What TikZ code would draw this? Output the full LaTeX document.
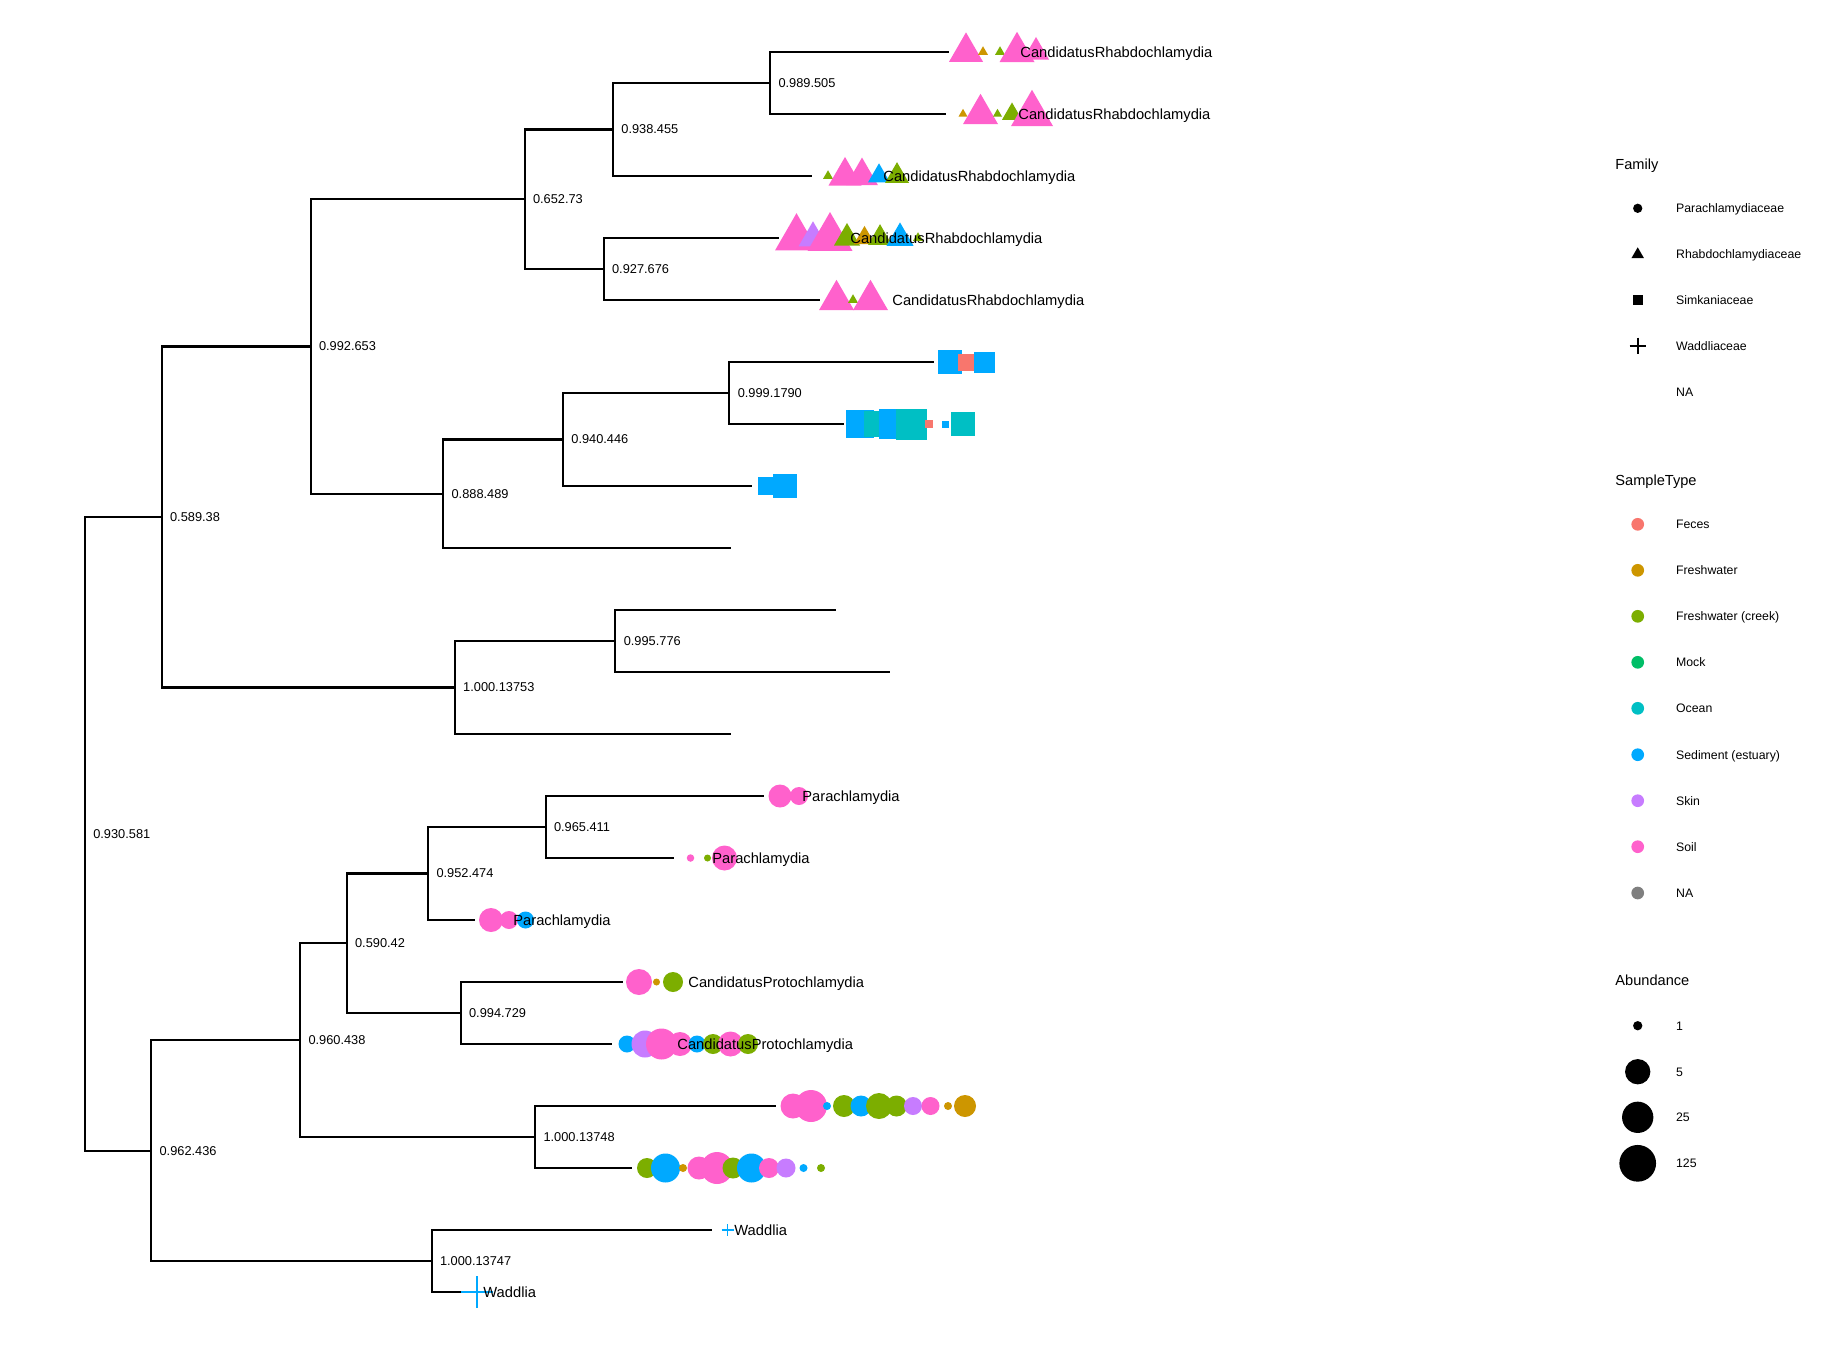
\documentclass[tikz,border=0pt]{standalone}
\usepackage{fontspec}
\setmainfont{Liberation Sans}
\definecolor{cfec}{HTML}{F8766D}
\definecolor{cfw}{HTML}{CD9600}
\definecolor{ccr}{HTML}{7CAE00}
\definecolor{cmo}{HTML}{00BE67}
\definecolor{coc}{HTML}{00BFC4}
\definecolor{cse}{HTML}{00A9FF}
\definecolor{csk}{HTML}{C77CFF}
\definecolor{cso}{HTML}{FF61CC}
\definecolor{cna}{HTML}{7F7F7F}
% markers: x, y, size, colour
\newcommand{\mtri}[4]{\fill[#4] (#1,#2) ++(0,{-0.5774*#3}) -- ++({0.5*#3},{0.866*#3}) -- ++({-#3},0) -- cycle;}
\newcommand{\msq}[4]{\fill[#4] ({#1-#3/2},{#2-#3/2}) rectangle ++(#3,#3);}
\newcommand{\mdot}[4]{\fill[#4] (#1,#2) circle[radius={#3/2}];}
\newcommand{\mplus}[5]{\draw[#4, line width=#5] ({#1-#3},#2) -- ({#1+#3},#2) (#1,{#2-#3}) -- (#1,{#2+#3});}
\begin{document}
\begin{tikzpicture}[x=0.5pt,y=-0.5pt,
  branch/.style={line width=1.05pt, black},
  nlab/.style={font=\fontsize{6.4}{7}\selectfont, anchor=west, inner sep=0pt, xshift=4pt},
  tlab/.style={font=\fontsize{7.35}{8}\selectfont, anchor=base west, inner sep=0pt, yshift=-2.7pt},
  ltitle/.style={font=\fontsize{7.3}{8}\selectfont, anchor=base west, inner sep=0pt},
  llab/.style={font=\fontsize{6.15}{7}\selectfont, anchor=base west, inner sep=0pt, yshift=-2.2pt}]
\useasboundingbox (0,0) rectangle (1824,1344);
\fill[white] (0,0) rectangle (1824,1344);
% tips
\coordinate (t1) at (949,52);
\coordinate (t2) at (946,114);
\coordinate (t3) at (811.5,176);
\coordinate (t4) at (779,238);
\coordinate (t5) at (820,300);
\coordinate (t6) at (933.5,362);
\coordinate (t7) at (843.5,424);
\coordinate (t8) at (752,486);
\coordinate (t9) at (730.5,548);
\coordinate (t10) at (836.4,610);
\coordinate (t11) at (889.9,672);
\coordinate (t12) at (730.5,734);
\coordinate (t13) at (764,796);
\coordinate (t14) at (674,858);
\coordinate (t15) at (475,920);
\coordinate (t16) at (623,982);
\coordinate (t17) at (612,1044);
\coordinate (t18) at (776,1106);
\coordinate (t19) at (632,1168);
\coordinate (t20) at (712,1230);
\coordinate (t21) at (462,1292);
% internal nodes
\coordinate (n12) at (770.1,83);
\coordinate (n123) at (613,129.5);
\coordinate (n45) at (603.7,269);
\coordinate (n1to5) at (524.6,199.25);
\coordinate (n67) at (729.4,393);
\coordinate (n678) at (563,439.5);
\coordinate (n6to9) at (443.2,493.75);
\coordinate (n1to9) at (310.6,346.5);
\coordinate (n1011) at (615.4,641);
\coordinate (n10to12) at (454.8,687.5);
\coordinate (n1to12) at (161.7,517);
\coordinate (n1314) at (545.6,827);
\coordinate (n13to15) at (428.1,873.5);
\coordinate (n1617) at (460.7,1013);
\coordinate (n13to17) at (346.7,943.25);
\coordinate (n1819) at (535.1,1137);
\coordinate (n13to19) at (300.1,1040.1);
\coordinate (n2021) at (431.6,1261);
\coordinate (n13to21) at (151.2,1150.6);
\coordinate (root) at (84.9,833.8);
% branches
\draw[branch]
  (n12) |- (t1) (n12) |- (t2)
  (n123) |- (n12) (n123) |- (t3)
  (n45) |- (t4) (n45) |- (t5)
  (n1to5) |- (n123) (n1to5) |- (n45)
  (n67) |- (t6) (n67) |- (t7)
  (n678) |- (n67) (n678) |- (t8)
  (n6to9) |- (n678) (n6to9) |- (t9)
  (n1to9) |- (n1to5) (n1to9) |- (n6to9)
  (n1011) |- (t10) (n1011) |- (t11)
  (n10to12) |- (n1011) (n10to12) |- (t12)
  (n1to12) |- (n1to9) (n1to12) |- (n10to12)
  (n1314) |- (t13) (n1314) |- (t14)
  (n13to15) |- (n1314) (n13to15) |- (t15)
  (n1617) |- (t16) (n1617) |- (t17)
  (n13to17) |- (n13to15) (n13to17) |- (n1617)
  (n1819) |- (t18) (n1819) |- (t19)
  (n13to19) |- (n13to17) (n13to19) |- (n1819)
  (n2021) |- (t20) (n2021) |- (t21)
  (n13to21) |- (n13to19) (n13to21) |- (n2021)
  (root) |- (n1to12) (root) |- (n13to21);
% node labels
\node[nlab] (b12) at (n12) {0.989.505};
\node[nlab] (b123) at (n123) {0.938.455};
\node[nlab] (b45) at (n45) {0.927.676};
\node[nlab] (b1to5) at (n1to5) {0.652.73};
\node[nlab] (b67) at (n67) {0.999.1790};
\node[nlab] (b678) at (n678) {0.940.446};
\node[nlab] (b6to9) at (n6to9) {0.888.489};
\node[nlab] (b1to9) at (n1to9) {0.992.653};
\node[nlab] (b1011) at (n1011) {0.995.776};
\node[nlab] (b10to12) at (n10to12) {1.000.13753};
\node[nlab] (b1to12) at (n1to12) {0.589.38};
\node[nlab] (b1314) at (n1314) {0.965.411};
\node[nlab] (b13to15) at (n13to15) {0.952.474};
\node[nlab] (b1617) at (n1617) {0.994.729};
\node[nlab] (b13to17) at (n13to17) {0.590.42};
\node[nlab] (b1819) at (n1819) {1.000.13748};
\node[nlab] (b13to19) at (n13to19) {0.960.438};
\node[nlab] (b2021) at (n2021) {1.000.13747};
\node[nlab] (b13to21) at (n13to21) {0.962.436};
\node[nlab] (broot) at (root) {0.930.581};
% markers row 1-5 (triangles)
\mtri{966}{52}{34}{cso}
\mtri{983}{52}{10}{cfw}
\mtri{1000}{52}{10}{ccr}
\mtri{1017}{52}{35}{cso}
\mtri{1036}{52}{26}{cso}
\mtri{963}{114}{9}{cfw}
\mtri{980.5}{114}{35}{cso}
\mtri{997.5}{114}{9}{ccr}
\mtri{1012}{114}{20}{ccr}
\mtri{1032}{114}{42}{cso}
\mtri{828}{176}{10}{ccr}
\mtri{845}{176}{33}{cso}
\mtri{862}{176}{32}{cso}
\mtri{879}{176}{22}{cse}
\mtri{897}{176}{24}{ccr}
\mtri{796.5}{238}{43}{cso}
\mtri{813}{238}{29}{csk}
\mtri{830}{238}{45}{cso}
\mtri{847}{238}{26}{ccr}
\mtri{864.5}{238}{21}{cfw}
\mtri{880}{238}{24}{ccr}
\mtri{900}{238}{27}{cse}
\mtri{918}{238}{10}{ccr}
\mtri{836.5}{300}{35}{cso}
\mtri{853}{300}{10}{ccr}
\mtri{870.5}{300}{35}{cso}
% squares rows 6-8
\msq{950}{362}{24}{cse}
\msq{966}{362}{17}{cfec}
\msq{984.5}{362}{21}{cse}
\msq{859.5}{424}{28}{cse}
\msq{877}{424}{26}{coc}
\msq{894}{424}{30}{cse}
\msq{911}{424}{31}{coc}
\msq{929}{424}{7.5}{cfec}
\msq{945.5}{424}{7}{cse}
\msq{963}{424}{24}{coc}
\msq{767}{486}{18}{cse}
\msq{784.5}{486}{24}{cse}
% circles rows 13-19
\mdot{780}{796}{23}{cso}
\mdot{799}{796}{18}{cso}
\mdot{690.5}{858}{7.5}{cso}
\mdot{707.5}{858}{7}{ccr}
\mdot{724.5}{858}{25}{cso}
\mdot{491}{920}{24}{cso}
\mdot{509}{920}{18}{cso}
\mdot{525.5}{920}{17}{cse}
\mdot{639}{982}{26}{cso}
\mdot{656.5}{982}{7}{cfw}
\mdot{673}{982}{20}{ccr}
\mdot{627}{1044}{17}{cse}
\mdot{645}{1044}{27}{csk}
\mdot{661.5}{1044}{31}{cso}
\mdot{680}{1044}{24}{cso}
\mdot{697}{1044}{17}{cse}
\mdot{713}{1044}{20}{ccr}
\mdot{730.5}{1044}{25}{cso}
\mdot{748}{1044}{20}{ccr}
\mdot{793}{1106}{25}{cso}
\mdot{811}{1106}{32}{cso}
\mdot{827}{1106}{8}{cse}
\mdot{844}{1106}{22}{ccr}
\mdot{861}{1106}{21}{cse}
\mdot{879}{1106}{26}{ccr}
\mdot{896.5}{1106}{21}{ccr}
\mdot{913}{1106}{18}{csk}
\mdot{930.5}{1106}{18}{cso}
\mdot{948}{1106}{8}{cfw}
\mdot{965}{1106}{22}{cfw}
\mdot{647}{1168}{20}{ccr}
\mdot{665.5}{1168}{29}{cse}
\mdot{683}{1168}{8}{cfw}
\mdot{699}{1168}{23}{cso}
\mdot{717}{1168}{32}{cso}
\mdot{733}{1168}{21}{ccr}
\mdot{751.5}{1168}{29}{cse}
\mdot{769}{1168}{20}{cso}
\mdot{786}{1168}{19}{csk}
\mdot{803.5}{1168}{8}{cse}
\mdot{821}{1168}{8}{ccr}
% crosses rows 20-21
\mplus{727.5}{1230}{6}{cse}{0.7pt}
\mplus{477}{1292}{16}{cse}{1pt}
% tip labels
\node[tlab] (l1) at (1020,52) {CandidatusRhabdochlamydia};
\node[tlab] (l2) at (1018,114) {CandidatusRhabdochlamydia};
\node[tlab] (l3) at (883,176) {CandidatusRhabdochlamydia};
\node[tlab] (l4) at (850,238) {CandidatusRhabdochlamydia};
\node[tlab] (l5) at (892,300) {CandidatusRhabdochlamydia};
\node[tlab] (l13) at (802,796) {Parachlamydia};
\node[tlab] (l14) at (712,858) {Parachlamydia};
\node[tlab] (l15) at (513,920) {Parachlamydia};
\node[tlab] (l16) at (688,982) {CandidatusProtochlamydia};
\node[tlab] (l17) at (677,1044) {CandidatusProtochlamydia};
\node[tlab] (l20) at (734,1230) {Waddlia};
\node[tlab] (l21) at (483,1292) {Waddlia};
% legend: Family
\node[ltitle] (famt) at (1615,169.5) {Family};
\mdot{1637.7}{208.3}{9.3}{black}
\mtri{1637.7}{254.5}{12.5}{black}
\msq{1637.7}{300}{10}{black}
\mplus{1637.7}{345.7}{8}{black}{0.8pt}
\node[llab] (f1) at (1675.7,208.3) {Parachlamydiaceae};
\node[llab] (f2) at (1675.7,254) {Rhabdochlamydiaceae};
\node[llab] (f3) at (1675.7,300) {Simkaniaceae};
\node[llab] (f4) at (1675.7,345.7) {Waddliaceae};
\node[llab] (f5) at (1675.7,391.7) {NA};
% legend: SampleType
\node[ltitle] (stt) at (1615,485.5) {SampleType};
\mdot{1637.7}{524.3}{12.7}{cfec}
\mdot{1637.7}{570.3}{12.7}{cfw}
\mdot{1637.7}{616.3}{12.7}{ccr}
\mdot{1637.7}{662.3}{12.7}{cmo}
\mdot{1637.7}{708.3}{12.7}{coc}
\mdot{1637.7}{754.7}{12.7}{cse}
\mdot{1637.7}{800.7}{12.7}{csk}
\mdot{1637.7}{846.7}{12.7}{cso}
\mdot{1637.7}{893}{12.7}{cna}
\node[llab] (s1) at (1675.7,524.3) {Feces};
\node[llab] (s2) at (1675.7,570.3) {Freshwater};
\node[llab] (s3) at (1675.7,616.3) {Freshwater (creek)};
\node[llab] (s4) at (1675.7,662.3) {Mock};
\node[llab] (s5) at (1675.7,708.3) {Ocean};
\node[llab] (s6) at (1675.7,754.7) {Sediment (estuary)};
\node[llab] (s7) at (1675.7,800.7) {Skin};
\node[llab] (s8) at (1675.7,846.7) {Soil};
\node[llab] (s9) at (1675.7,893) {NA};
% legend: Abundance
\node[ltitle] (abt) at (1615,985.5) {Abundance};
\mdot{1637.7}{1025.7}{9.3}{black}
\mdot{1637.7}{1071.7}{25.3}{black}
\mdot{1637.7}{1117.3}{31.3}{black}
\mdot{1637.7}{1163.3}{36.7}{black}
\node[llab] (a1) at (1675.7,1025.7) {1};
\node[llab] (a2) at (1675.7,1071.7) {5};
\node[llab] (a3) at (1675.7,1117.3) {25};
\node[llab] (a4) at (1675.7,1163.3) {125};
\end{tikzpicture}
\end{document}
